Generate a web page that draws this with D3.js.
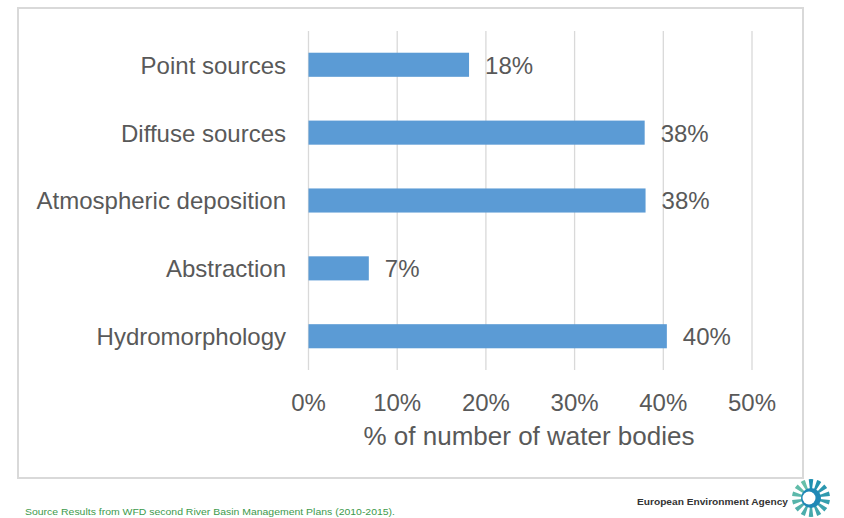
<!DOCTYPE html>
<html><head><meta charset="utf-8">
<script src="https://cdn.jsdelivr.net/npm/d3@7"></script>
<style>body{margin:0;background:#fff}svg{display:block}text{font-family:"Liberation Sans",Arial,sans-serif}</style>
</head><body>
<svg id="c" width="844" height="518"></svg>
<script>
const categories = ["Point sources","Diffuse sources","Atmospheric deposition","Abstraction","Hydromorphology"];
const values = [18.1, 37.9, 38.0, 6.8, 40.4];
const valueLabels = ["18%","38%","38%","7%","40%"];
const ticks = [0,10,20,30,40,50];
const axisTitle = "% of number of water bodies";
const sourceText = "Source Results from WFD second River Basin Management Plans (2010-2015).";
const agencyText = "European Environment Agency";

const svg = d3.select("#c");
svg.append("rect").attr("x",18).attr("y",8).attr("width",785).attr("height",470)
  .attr("fill","#fff").attr("stroke","#d9d9d9").attr("stroke-width",2);

const x = d3.scaleLinear().domain([0,50]).range([308.5,752]);
const y = d3.scaleBand().domain(categories).range([31,370]).paddingInner(0.645).paddingOuter(0.32);

const g = svg.append("g");
g.selectAll("line.grid").data(ticks).join("line").attr("class","grid")
  .attr("x1",d=>x(d)).attr("x2",d=>x(d)).attr("y1",31).attr("y2",370)
  .attr("stroke","#d9d9d9").attr("stroke-width",1.3);

g.selectAll("rect.bar").data(values).join("rect").attr("class","bar")
  .attr("x",x(0)).attr("y",(d,i)=>y(categories[i]))
  .attr("width",d=>x(d)-x(0)).attr("height",y.bandwidth())
  .attr("fill","#5b9bd5");

g.selectAll("text.val").data(values).join("text").attr("class","val")
  .attr("x",d=>x(d)+16).attr("y",(d,i)=>y(categories[i])+y.bandwidth()/2)
  .attr("dy","0.37em").attr("font-size",24).attr("fill","#595959")
  .text((d,i)=>valueLabels[i]);

g.selectAll("text.cat").data(categories).join("text").attr("class","cat")
  .attr("x",286).attr("y",d=>y(d)+y.bandwidth()/2).attr("dy","0.37em")
  .attr("text-anchor","end").attr("font-size",24).attr("fill","#595959").text(d=>d);

g.selectAll("text.tick").data(ticks).join("text").attr("class","tick")
  .attr("x",d=>x(d)).attr("y",411).attr("text-anchor","middle")
  .attr("font-size",24).attr("fill","#595959").text(d=>d+"%");

g.append("text").attr("x",529).attr("y",445).attr("text-anchor","middle")
  .attr("font-size",26).attr("fill","#595959").text(axisTitle);

svg.append("text").attr("x",25).attr("y",515).attr("font-size",9)
  .attr("textLength",370).attr("lengthAdjust","spacingAndGlyphs")
  .attr("fill","#3c9a4c").text(sourceText);
svg.append("text").attr("x",637).attr("y",505).attr("font-size",9.5).attr("font-weight","bold")
  .attr("textLength",151).attr("lengthAdjust","spacingAndGlyphs")
  .attr("fill","#333").text(agencyText);

// logo
const logo = svg.append("g").attr("transform","translate(811,498)");
const n = 14;
for (let i=0;i<n;i++){
  const a = i/n*2*Math.PI;
  const c = d3.interpolateRgb("#1f8fb0","#6cc3a8")(i/n);
  logo.append("path").attr("d", d3.arc()({innerRadius:9,outerRadius:19,startAngle:a-0.12,endAngle:a+0.12}))
    .attr("fill",c);
}
logo.append("circle").attr("r",10).attr("fill","#1e88b6");
logo.append("circle").attr("r",6.5).attr("cx",-2).attr("fill","#fff");
</script>
</body></html>
